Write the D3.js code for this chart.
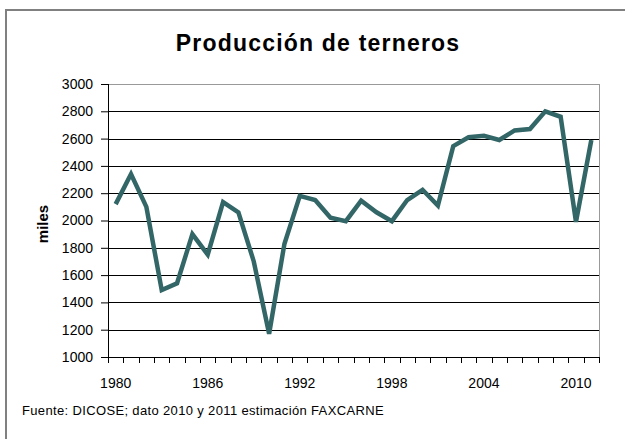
<!DOCTYPE html>
<html>
<head>
<meta charset="utf-8">
<script src="https://cdn.jsdelivr.net/npm/d3@7"></script>
<style>
  body { margin: 0; background: #fff; }
  text { font-family: "Liberation Sans", Arial, sans-serif; }
</style>
</head>
<body>
<div id="chart"></div>
<script>
// data
var years = d3.range(1980, 2012);
var terneros = [2120, 2340, 2100, 1490, 1540, 1900, 1750, 2135, 2060, 1700,
                1170, 1830, 2180, 2150, 2020, 1995, 2145, 2060, 1995, 2150,
                2225, 2110, 2545, 2610, 2620, 2590, 2660, 2670, 2800, 2760,
                1990, 2590];
var yTicks = [1000, 1200, 1400, 1600, 1800, 2000, 2200, 2400, 2600, 2800, 3000];
var xLabels = [1980, 1986, 1992, 1998, 2004, 2010];

var data = years.map((y, i) => ({ year: y, value: terneros[i] }));

var svgWidth = 625;
var svgHeight = 439;
var margin = { top: 84, right: 26, bottom: 82, left: 108 };
var width = svgWidth - margin.left - margin.right;
var height = svgHeight - margin.top - margin.bottom;

var svg = d3.select("#chart")
    .append("svg")
    .attr("width", svgWidth)
    .attr("height", svgHeight);

// outer frame
svg.append("rect")
    .attr("x", 6).attr("y", 10)
    .attr("width", 640).attr("height", 460)
    .attr("fill", "none")
    .attr("stroke", "#808080")
    .attr("stroke-width", 2);

var chartGroup = svg.append("g")
    .attr("transform", `translate(${margin.left}, ${margin.top})`);

var xScale = d3.scaleBand()
    .domain(years)
    .range([0, width]);

var yScale = d3.scaleLinear()
    .domain([1000, 3000])
    .range([height, 0]);

// gridlines
chartGroup.selectAll(".grid")
    .data(yTicks.slice(1))
    .enter()
    .append("line")
    .attr("x1", 0).attr("x2", width)
    .attr("y1", d => Math.round(yScale(d)) + 0.5)
    .attr("y2", d => Math.round(yScale(d)) + 0.5)
    .attr("stroke", d => d === 3000 ? "#999" : "#000")
    .attr("stroke-width", 1);

// right border of plot area
chartGroup.append("line")
    .attr("x1", width + 0.5).attr("x2", width + 0.5)
    .attr("y1", 0).attr("y2", height)
    .attr("stroke", "#999");

// y axis
var yAxis = d3.axisLeft(yScale)
    .tickValues(yTicks)
    .tickFormat(d3.format("d"))
    .tickSize(7)
    .tickPadding(8);
var yG = chartGroup.append("g").call(yAxis);
yG.select(".domain").attr("d", `M0.5,0V${height}`).attr("stroke", "#000");
yG.selectAll("text")
    .attr("font-size", 14)
    .attr("font-family", "Liberation Sans, Arial, sans-serif")
    .attr("fill", "#000");

// x axis: ticks between categories
var xG = chartGroup.append("g")
    .attr("transform", `translate(0, ${height})`);
xG.append("line")
    .attr("x1", 0).attr("x2", width)
    .attr("y1", 0.5).attr("y2", 0.5)
    .attr("stroke", "#000");
xG.selectAll(".xtick")
    .data(years.concat([2012]))
    .enter()
    .append("line")
    .attr("x1", (d, i) => Math.round(i * xScale.step()) + 0.5)
    .attr("x2", (d, i) => Math.round(i * xScale.step()) + 0.5)
    .attr("y1", 0).attr("y2", 6)
    .attr("stroke", "#000");
xG.selectAll(".xlabel")
    .data(xLabels)
    .enter()
    .append("text")
    .attr("x", d => xScale(d) + xScale.bandwidth() / 2)
    .attr("y", 31)
    .attr("text-anchor", "middle")
    .attr("font-size", 14)
    .text(d => d);

// the line
var line = d3.line()
    .x(d => xScale(d.year) + xScale.bandwidth() / 2)
    .y(d => yScale(d.value));

chartGroup.append("path")
    .datum(data)
    .attr("d", line)
    .attr("fill", "none")
    .attr("stroke", "#336666")
    .attr("stroke-width", 4.5)
    .attr("stroke-linejoin", "miter");

// title
svg.append("text")
    .attr("x", 318).attr("y", 51)
    .attr("text-anchor", "middle")
    .attr("font-size", 23)
    .attr("letter-spacing", 1.2)
    .attr("font-weight", "bold")
    .text("Producción de terneros");

// y label
svg.append("text")
    .attr("transform", "translate(48, 224) rotate(-90)")
    .attr("text-anchor", "middle")
    .attr("font-size", 15)
    .attr("font-weight", "bold")
    .text("miles");

// source note
svg.append("text")
    .attr("x", 22).attr("y", 415)
    .attr("font-size", 13)
    .attr("letter-spacing", 0.35)
    .text("Fuente: DICOSE; dato 2010 y 2011 estimación FAXCARNE");
</script>
</body>
</html>
